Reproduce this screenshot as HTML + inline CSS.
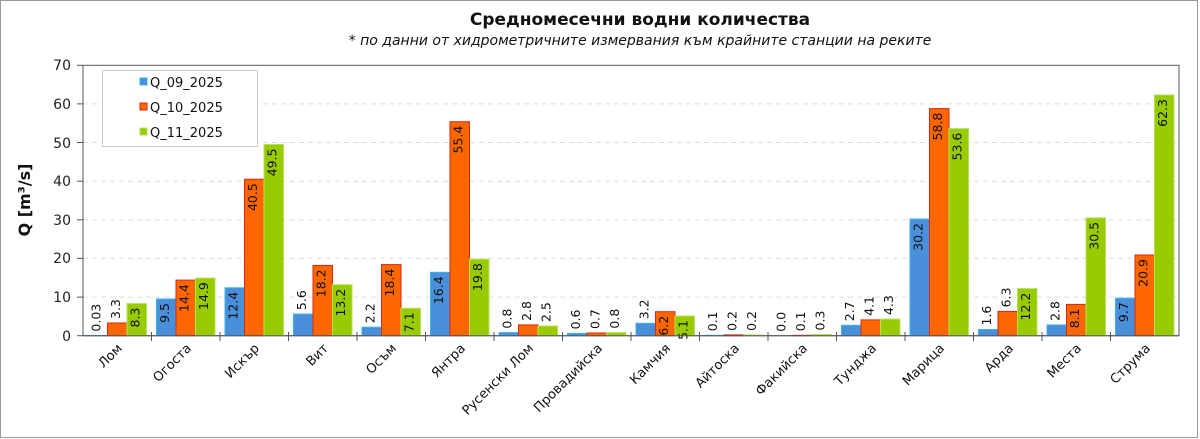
<!DOCTYPE html>
<html><head><meta charset="utf-8"><style>
body{margin:0;background:#fff}
svg{display:block;font-family:"DejaVu Sans","Liberation Sans",sans-serif}
.b{fill:#4a8fda;stroke:#33b5f0;stroke-width:1}
.o{fill:#ff6600;stroke:#d42a10;stroke-width:1}
.g{fill:#99cc00;stroke:#b5e05a;stroke-width:1}
.l text{font-size:12.5px;fill:#111}
.i{text-anchor:end}.u{text-anchor:start}
.c text{font-size:13px;text-anchor:end;fill:#111}
.y text{font-size:14px;text-anchor:end;fill:#222}
</style></head><body>
<svg width="1200" height="439" viewBox="0 0 1200 439">
<rect x="0.5" y="0.5" width="1197" height="437" fill="#fff" stroke="#999"/>
<text x="640" y="25" font-size="17" font-weight="bold" text-anchor="middle" fill="#111">Средномесечни водни количества</text>
<text x="640" y="45" font-size="14" font-style="italic" text-anchor="middle" fill="#111">* по данни от хидрометричните измервания към крайните станции на реките</text>
<g stroke="#ddd" stroke-dasharray="5,4">
<line x1="83" x2="1179" y1="297.1" y2="297.1"/><line x1="83" x2="1179" y1="258.4" y2="258.4"/>
<line x1="83" x2="1179" y1="219.8" y2="219.8"/><line x1="83" x2="1179" y1="181.2" y2="181.2"/>
<line x1="83" x2="1179" y1="142.5" y2="142.5"/><line x1="83" x2="1179" y1="103.9" y2="103.9"/>
</g>
<rect x="83" y="65.3" width="1096" height="270.4" fill="none" stroke="#555"/>
<g stroke="#555">
<line x1="77" x2="83" y1="335.7" y2="335.7"/><line x1="77" x2="83" y1="297.1" y2="297.1"/><line x1="77" x2="83" y1="258.4" y2="258.4"/><line x1="77" x2="83" y1="219.8" y2="219.8"/><line x1="77" x2="83" y1="181.2" y2="181.2"/><line x1="77" x2="83" y1="142.5" y2="142.5"/><line x1="77" x2="83" y1="103.9" y2="103.9"/><line x1="77" x2="83" y1="65.3" y2="65.3"/>
<line x1="151.5" x2="151.5" y1="332" y2="341"/><line x1="220" x2="220" y1="332" y2="341"/><line x1="288.5" x2="288.5" y1="332" y2="341"/><line x1="357" x2="357" y1="332" y2="341"/><line x1="425.5" x2="425.5" y1="332" y2="341"/><line x1="494" x2="494" y1="332" y2="341"/><line x1="562.5" x2="562.5" y1="332" y2="341"/><line x1="631" x2="631" y1="332" y2="341"/><line x1="699.5" x2="699.5" y1="332" y2="341"/><line x1="768" x2="768" y1="332" y2="341"/><line x1="836.5" x2="836.5" y1="332" y2="341"/><line x1="905" x2="905" y1="332" y2="341"/><line x1="973.5" x2="973.5" y1="332" y2="341"/><line x1="1042" x2="1042" y1="332" y2="341"/><line x1="1110.5" x2="1110.5" y1="332" y2="341"/>
</g>
<g class="y">
<text x="71" y="341">0</text><text x="71" y="302">10</text><text x="71" y="263">20</text><text x="71" y="225">30</text><text x="71" y="186">40</text><text x="71" y="148">50</text><text x="71" y="109">60</text><text x="71" y="70">70</text>
</g>
<text transform="translate(30,200) rotate(-90)" font-size="16" font-weight="bold" text-anchor="middle" fill="#111">Q [m³/s]</text>

<g class="l">
<g transform="translate(83,335.7)"><rect class="b" x="5" y="-0.1" width="19.5" height="0.1"/><rect class="o" x="24.5" y="-12.7" width="19.5" height="12.7"/><rect class="g" x="44" y="-32.1" width="19.5" height="32.1"/>
<text class="u" transform="translate(17.5,-4.1) rotate(-90)">0.03</text><text class="u" transform="translate(37,-16.7) rotate(-90)">3.3</text><text class="i" transform="translate(56.5,-28.1) rotate(-90)">8.3</text></g>
<g transform="translate(151.5,335.7)"><rect class="b" x="5" y="-36.7" width="19.5" height="36.7"/><rect class="o" x="24.5" y="-55.6" width="19.5" height="55.6"/><rect class="g" x="44" y="-57.6" width="19.5" height="57.6"/>
<text class="i" transform="translate(17.5,-32.7) rotate(-90)">9.5</text><text class="i" transform="translate(37,-51.6) rotate(-90)">14.4</text><text class="i" transform="translate(56.5,-53.6) rotate(-90)">14.9</text></g>
<g transform="translate(220,335.7)"><rect class="b" x="5" y="-47.9" width="19.5" height="47.9"/><rect class="o" x="24.5" y="-156.5" width="19.5" height="156.5"/><rect class="g" x="44" y="-191.2" width="19.5" height="191.2"/>
<text class="i" transform="translate(17.5,-43.9) rotate(-90)">12.4</text><text class="i" transform="translate(37,-152.5) rotate(-90)">40.5</text><text class="i" transform="translate(56.5,-187.2) rotate(-90)">49.5</text></g>
<g transform="translate(288.5,335.7)"><rect class="b" x="5" y="-21.6" width="19.5" height="21.6"/><rect class="o" x="24.5" y="-70.3" width="19.5" height="70.3"/><rect class="g" x="44" y="-51" width="19.5" height="51"/>
<text class="u" transform="translate(17.5,-25.6) rotate(-90)">5.6</text><text class="i" transform="translate(37,-66.3) rotate(-90)">18.2</text><text class="i" transform="translate(56.5,-47) rotate(-90)">13.2</text></g>
<g transform="translate(357,335.7)"><rect class="b" x="5" y="-8.5" width="19.5" height="8.5"/><rect class="o" x="24.5" y="-71.1" width="19.5" height="71.1"/><rect class="g" x="44" y="-27.4" width="19.5" height="27.4"/>
<text class="u" transform="translate(17.5,-12.5) rotate(-90)">2.2</text><text class="i" transform="translate(37,-67.1) rotate(-90)">18.4</text><text class="i" transform="translate(56.5,-23.4) rotate(-90)">7.1</text></g>
<g transform="translate(425.5,335.7)"><rect class="b" x="5" y="-63.4" width="19.5" height="63.4"/><rect class="o" x="24.5" y="-214" width="19.5" height="214"/><rect class="g" x="44" y="-76.5" width="19.5" height="76.5"/>
<text class="i" transform="translate(17.5,-59.4) rotate(-90)">16.4</text><text class="i" transform="translate(37,-210) rotate(-90)">55.4</text><text class="i" transform="translate(56.5,-72.5) rotate(-90)">19.8</text></g>
<g transform="translate(494,335.7)"><rect class="b" x="5" y="-3.1" width="19.5" height="3.1"/><rect class="o" x="24.5" y="-10.8" width="19.5" height="10.8"/><rect class="g" x="44" y="-9.7" width="19.5" height="9.7"/>
<text class="u" transform="translate(17.5,-7.1) rotate(-90)">0.8</text><text class="u" transform="translate(37,-14.8) rotate(-90)">2.8</text><text class="u" transform="translate(56.5,-13.7) rotate(-90)">2.5</text></g>
<g transform="translate(562.5,335.7)"><rect class="b" x="5" y="-2.3" width="19.5" height="2.3"/><rect class="o" x="24.5" y="-2.7" width="19.5" height="2.7"/><rect class="g" x="44" y="-3.1" width="19.5" height="3.1"/>
<text class="u" transform="translate(17.5,-6.3) rotate(-90)">0.6</text><text class="u" transform="translate(37,-6.7) rotate(-90)">0.7</text><text class="u" transform="translate(56.5,-7.1) rotate(-90)">0.8</text></g>
<g transform="translate(631,335.7)"><rect class="b" x="5" y="-12.4" width="19.5" height="12.4"/><rect class="o" x="24.5" y="-24" width="19.5" height="24"/><rect class="g" x="44" y="-19.7" width="19.5" height="19.7"/>
<text class="u" transform="translate(17.5,-16.4) rotate(-90)">3.2</text><text class="i" transform="translate(37,-20) rotate(-90)">6.2</text><text class="i" transform="translate(56.5,-15.7) rotate(-90)">5.1</text></g>
<g transform="translate(699.5,335.7)"><rect class="b" x="5" y="-0.4" width="19.5" height="0.4"/><rect class="o" x="24.5" y="-0.8" width="19.5" height="0.8"/><rect class="g" x="44" y="-0.8" width="19.5" height="0.8"/>
<text class="u" transform="translate(17.5,-4.4) rotate(-90)">0.1</text><text class="u" transform="translate(37,-4.8) rotate(-90)">0.2</text><text class="u" transform="translate(56.5,-4.8) rotate(-90)">0.2</text></g>
<g transform="translate(768,335.7)"><rect class="o" x="24.5" y="-0.4" width="19.5" height="0.4"/><rect class="g" x="44" y="-1.2" width="19.5" height="1.2"/>
<text class="u" transform="translate(17.5,-4) rotate(-90)">0.0</text><text class="u" transform="translate(37,-4.4) rotate(-90)">0.1</text><text class="u" transform="translate(56.5,-5.2) rotate(-90)">0.3</text></g>
<g transform="translate(836.5,335.7)"><rect class="b" x="5" y="-10.4" width="19.5" height="10.4"/><rect class="o" x="24.5" y="-15.8" width="19.5" height="15.8"/><rect class="g" x="44" y="-16.6" width="19.5" height="16.6"/>
<text class="u" transform="translate(17.5,-14.4) rotate(-90)">2.7</text><text class="u" transform="translate(37,-19.8) rotate(-90)">4.1</text><text class="u" transform="translate(56.5,-20.6) rotate(-90)">4.3</text></g>
<g transform="translate(905,335.7)"><rect class="b" x="5" y="-116.7" width="19.5" height="116.7"/><rect class="o" x="24.5" y="-227.1" width="19.5" height="227.1"/><rect class="g" x="44" y="-207.1" width="19.5" height="207.1"/>
<text class="i" transform="translate(17.5,-112.7) rotate(-90)">30.2</text><text class="i" transform="translate(37,-223.1) rotate(-90)">58.8</text><text class="i" transform="translate(56.5,-203.1) rotate(-90)">53.6</text></g>
<g transform="translate(973.5,335.7)"><rect class="b" x="5" y="-6.2" width="19.5" height="6.2"/><rect class="o" x="24.5" y="-24.3" width="19.5" height="24.3"/><rect class="g" x="44" y="-47.1" width="19.5" height="47.1"/>
<text class="u" transform="translate(17.5,-10.2) rotate(-90)">1.6</text><text class="u" transform="translate(37,-28.3) rotate(-90)">6.3</text><text class="i" transform="translate(56.5,-43.1) rotate(-90)">12.2</text></g>
<g transform="translate(1042,335.7)"><rect class="b" x="5" y="-10.8" width="19.5" height="10.8"/><rect class="o" x="24.5" y="-31.3" width="19.5" height="31.3"/><rect class="g" x="44" y="-117.8" width="19.5" height="117.8"/>
<text class="u" transform="translate(17.5,-14.8) rotate(-90)">2.8</text><text class="i" transform="translate(37,-27.3) rotate(-90)">8.1</text><text class="i" transform="translate(56.5,-113.8) rotate(-90)">30.5</text></g>
<g transform="translate(1110.5,335.7)"><rect class="b" x="5" y="-37.5" width="19.5" height="37.5"/><rect class="o" x="24.5" y="-80.7" width="19.5" height="80.7"/><rect class="g" x="44" y="-240.7" width="19.5" height="240.7"/>
<text class="i" transform="translate(17.5,-33.5) rotate(-90)">9.7</text><text class="i" transform="translate(37,-76.7) rotate(-90)">20.9</text><text class="i" transform="translate(56.5,-236.7) rotate(-90)">62.3</text></g>
</g>
<line x1="83" x2="1179" y1="335.7" y2="335.7" stroke="#555"/>

<g class="c">
<text transform="translate(123,349) rotate(-45)">Лом</text>
<text transform="translate(192,349) rotate(-45)">Огоста</text>
<text transform="translate(260,349) rotate(-45)">Искър</text>
<text transform="translate(329,349) rotate(-45)">Вит</text>
<text transform="translate(397,349) rotate(-45)">Осъм</text>
<text transform="translate(466,349) rotate(-45)">Янтра</text>
<text transform="translate(534,349) rotate(-45)">Русенски Лом</text>
<text transform="translate(603,349) rotate(-45)">Провадийска</text>
<text transform="translate(671,349) rotate(-45)">Камчия</text>
<text transform="translate(740,349) rotate(-45)">Айтоска</text>
<text transform="translate(808,349) rotate(-45)">Факийска</text>
<text transform="translate(877,349) rotate(-45)">Тунджа</text>
<text transform="translate(945,349) rotate(-45)">Марица</text>
<text transform="translate(1014,349) rotate(-45)">Арда</text>
<text transform="translate(1082,349) rotate(-45)">Места</text>
<text transform="translate(1151,349) rotate(-45)">Струма</text>
</g>

<rect x="102.5" y="70.5" width="155" height="76" fill="#fff" stroke="#ccc"/>
<rect class="b" x="140" y="78" width="7" height="7"/><text x="150" y="87" font-size="13" fill="#111">Q_09_2025</text>
<rect class="o" x="140" y="103" width="7" height="7"/><text x="150" y="112" font-size="13" fill="#111">Q_10_2025</text>
<rect class="g" x="140" y="128" width="7" height="7"/><text x="150" y="137" font-size="13" fill="#111">Q_11_2025</text>
</svg>
</body></html>
